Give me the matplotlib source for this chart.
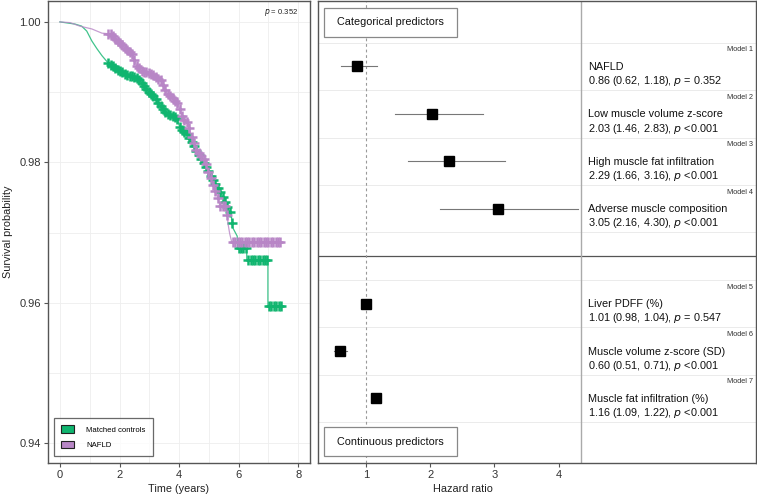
import numpy as np
import matplotlib
matplotlib.use("Agg")
import matplotlib.pyplot as plt
import matplotlib.transforms as mtransforms
from matplotlib.patches import Rectangle

plt.rcParams['font.family'] = ['Liberation Sans', 'DejaVu Sans']

# ---- Kaplan-Meier curves ----
ctrl_t = [0, 0.5, 0.73, 0.9, 1.07, 1.24, 1.41, 1.61, 1.91, 2.18, 2.58, 2.75, 2.95, 3.15,
          3.38, 3.59, 3.93, 4.03, 4.26, 4.46, 4.63, 4.93, 5.1, 5.3, 5.45, 5.6, 5.75, 5.8,
          5.95, 5.97, 6.27, 6.27, 6.98, 6.98, 7.45]
ctrl_s = [1.0, 0.9997, 0.9994, 0.9987, 0.9973, 0.9962, 0.9952, 0.9942, 0.9933, 0.9926,
          0.992, 0.9913, 0.9902, 0.9894, 0.988, 0.9869, 0.9863, 0.9849, 0.984, 0.9826,
          0.9812, 0.9792, 0.9778, 0.9764, 0.9752, 0.9738, 0.9725, 0.9707, 0.9695, 0.9678,
          0.9678, 0.9661, 0.9661, 0.9595, 0.9595]
nafld_t = [0, 0.34, 0.67, 1.07, 1.41, 1.68, 1.95, 2.18, 2.42, 2.58, 2.75, 3.09, 3.4, 3.6,
           3.94, 4.13, 4.3, 4.43, 4.6, 4.87, 4.97, 5.12, 5.3, 5.37, 5.6, 5.64, 5.7, 5.77, 7.38]
nafld_s = [1.0, 0.9999, 0.9994, 0.999, 0.9984, 0.9983, 0.9973, 0.9963, 0.9954, 0.9937,
           0.993, 0.9926, 0.9916, 0.9898, 0.9885, 0.9863, 0.9855, 0.9835, 0.9816, 0.9802,
           0.9788, 0.977, 0.975, 0.9738, 0.9738, 0.9713, 0.9698, 0.9686, 0.9686]

# censoring marks (times)
ctrl_cens = [1.62, 1.7, 1.78, 1.86, 1.94, 2.02, 2.1, 2.18, 2.26, 2.34, 2.42, 2.5, 2.58, 2.66,
             2.74, 2.82, 2.9, 2.98, 3.06, 3.14, 3.22, 3.3, 3.38, 3.46, 3.54, 3.62, 3.7, 3.78,
             3.86, 3.94, 4.02, 4.1, 4.18, 4.26, 4.34, 4.42, 4.5, 4.58, 4.66, 4.74, 4.82, 4.9,
             4.98, 5.06, 5.14, 5.22, 5.3, 5.38, 5.46, 5.54, 5.62, 5.7, 5.78, 6.0, 6.08, 6.16,
             6.24, 6.32, 6.4, 6.48, 6.56, 6.64, 6.72, 6.8, 6.88, 6.95, 7.03, 7.1, 7.18, 7.26,
             7.34, 7.42]
nafld_cens = [1.62, 1.7, 1.78, 1.86, 1.94, 2.02, 2.1, 2.18, 2.26, 2.34, 2.42, 2.5, 2.58, 2.66,
              2.74, 2.82, 2.9, 2.98, 3.06, 3.14, 3.22, 3.3, 3.38, 3.46, 3.54, 3.62, 3.7, 3.78,
              3.86, 3.94, 4.02, 4.1, 4.18, 4.26, 4.34, 4.42, 4.5, 4.58, 4.66, 4.74, 4.82, 4.9,
              4.98, 5.06, 5.14, 5.22, 5.3, 5.38, 5.46, 5.54, 5.62, 5.8, 5.88, 5.96, 6.04, 6.12,
              6.2, 6.28, 6.36, 6.44, 6.52, 6.6, 6.68, 6.76, 6.84, 6.92, 7.0, 7.08, 7.16, 7.24,
              7.32, 7.37]

# ---- forest plot ----
models = ["Model 1", "Model 2", "Model 3", "Model 4", "Model 5", "Model 6", "Model 7"]
predictors = ["NAFLD", "Low muscle volume z-score", "High muscle fat infiltration",
              "Adverse muscle composition", "Liver PDFF (%)", "Muscle volume z-score (SD)",
              "Muscle fat infiltration (%)"]
hr = [0.86, 2.03, 2.29, 3.05, 1.01, 0.60, 1.16]
lo = [0.62, 1.46, 1.66, 2.16, 0.98, 0.51, 1.09]
hi = [1.18, 2.83, 3.16, 4.30, 1.04, 0.71, 1.22]
pval = ["= 0.352", "<0.001", "<0.001", "<0.001", "= 0.547", "<0.001", "<0.001"]
rows = [1, 2, 3, 4, 6, 7, 8]

green = "#10B56F"
purple = "#B886C6"
frame = "#555555"

fig = plt.figure(figsize=(7.57, 4.98), dpi=100)
ax1 = fig.add_axes([0.0634, 0.0703, 0.346, 0.928])
ax2 = fig.add_axes([0.420, 0.0703, 0.5786, 0.928])

# left: survival
for t, s, c, cens in [(ctrl_t, ctrl_s, green, ctrl_cens), (nafld_t, nafld_s, purple, nafld_cens)]:
    ax1.plot(t, s, color=c, lw=0.9, alpha=0.8)
    cy = np.interp(cens, t, s)
    ax1.plot(cens, cy, ls='none', marker='+', ms=6.5, mew=1.8, color=c)

ax1.set_xlim(-0.4, 8.39)
ax1.set_ylim(0.9372, 1.003)
ax1.set_xticks([0, 2, 4, 6, 8])
ax1.set_yticks([0.94, 0.96, 0.98, 1.00])
ax1.set_yticklabels(["0.94", "0.96", "0.98", "1.00"])
ax1.set_xticks([1, 3, 5, 7], minor=True)
ax1.set_yticks([0.95, 0.97, 0.99], minor=True)
ax1.grid(True, which='both', color='#EEEEEE', lw=0.6)
ax1.set_axisbelow(True)
ax1.tick_params(which='minor', length=0)
ax1.tick_params(which='major', length=3, color=frame, labelsize=8, labelcolor='#333333', pad=2)
for sp in ax1.spines.values():
    sp.set_color(frame)
    sp.set_linewidth(1)
ax1.set_xlabel("Time (years)", fontsize=7.8, color='#222222', labelpad=3)
ax1.set_ylabel("Survival probability", fontsize=7.8, color='#222222', labelpad=5)
ax1.text(0.955, 0.975, "$\\it{p}$ = 0.352", transform=ax1.transAxes, ha='right', va='center',
         fontsize=5.5, color='#222222')

hands = [Rectangle((0, 0), 1, 1, facecolor=green, edgecolor='#222222', lw=0.8),
         Rectangle((0, 0), 1, 1, facecolor=purple, edgecolor='#222222', lw=0.8)]
leg = ax1.legend(hands, ["Matched controls", "NAFLD"], loc='lower left',
                 bbox_to_anchor=(0.015, 0.01), fontsize=5.6, frameon=True, fancybox=False,
                 edgecolor='#444444', handlelength=1.6, handleheight=1.1, handletextpad=1.6,
                 borderpad=0.9, labelspacing=0.9, borderaxespad=0.3)
leg.get_frame().set_linewidth(0.9)

# right: forest plot
ax2.set_xlim(0.255, 7.07)
ax2.set_ylim(9.36, -0.384)
blend = mtransforms.blended_transform_factory(ax2.transAxes, ax2.transData)
for yb in [0.5, 1.5, 2.5, 3.5, 4.5, 5.5, 6.5, 7.5, 8.5]:
    ax2.axhline(yb, color='#EBEBEB', lw=0.7, zorder=0)
ax2.axhline(5, color=frame, lw=0.9, zorder=1)
ax2.axvline(4.35, color='#AAAAAA', lw=1.0, zorder=1)
ax2.axvline(1, color='#999999', lw=0.8, ls=(0, (2.5, 2.5)), zorder=1)

for i in range(len(hr)):
    y = rows[i]
    ax2.plot([lo[i], min(hi[i], 4.3)], [y, y], color='#777777', lw=0.8, zorder=2)
    ax2.plot(hr[i], y, marker='s', ms=6.5, color='black', ls='none', zorder=3)
    ax2.text(0.993, y - 0.35, models[i], transform=blend, ha='right', va='center',
             fontsize=5.3, color='#333333')
    ax2.text(0.616, y + 0.01, predictors[i], transform=blend, ha='left', va='center',
             fontsize=7.8, color='#111111')
    ax2.text(0.616, y + 0.31,
             "%.2f (%.2f, %.2f), $\\it{p}$ %s" % (hr[i], lo[i], hi[i], pval[i]),
             transform=blend, ha='left', va='center', fontsize=7.8, color='#111111')

for (y0, label) in [(0.922, "Categorical predictors"), (0.015, "Continuous predictors")]:
    ax2.add_patch(Rectangle((0.0137, y0), 0.303, 0.063, transform=ax2.transAxes,
                            facecolor='white', edgecolor='#888888', lw=0.9, zorder=4))
    ax2.text(0.0137 + 0.303 / 2, y0 + 0.0315, label, transform=ax2.transAxes, ha='center',
             va='center', fontsize=7.8, color='#111111', zorder=5)

ax2.set_xticks([1, 2, 3, 4])
ax2.set_yticks([])
ax2.tick_params(length=3, color=frame, labelsize=8, labelcolor='#333333', pad=2)
for sp in ax2.spines.values():
    sp.set_color(frame)
    sp.set_linewidth(1)
ax2.set_xlabel("Hazard ratio", fontsize=7.8, color='#222222', labelpad=3)
ax2.xaxis.set_label_coords(0.33, -0.045)

fig.savefig("out.png", dpi=100)
